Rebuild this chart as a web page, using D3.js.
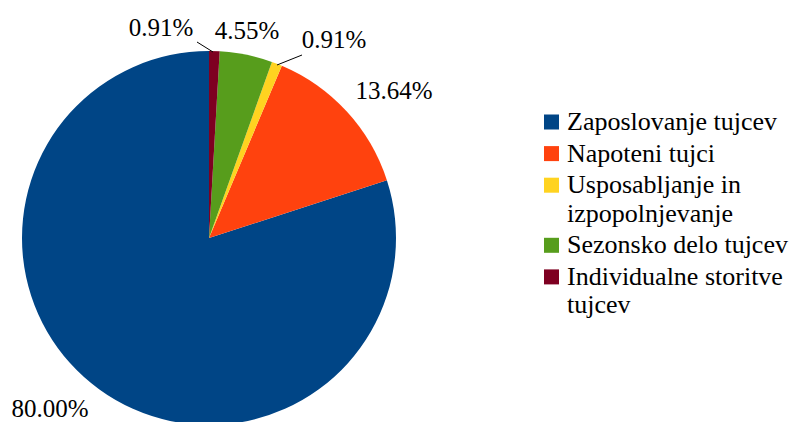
<!DOCTYPE html>
<html><head><meta charset="utf-8">
<script src="https://cdn.jsdelivr.net/npm/d3@7"></script>
<style>body{margin:0;background:#fff}</style>
</head><body>
<svg id="c" width="792" height="422"></svg>
<script>
const categories = ["Zaposlovanje tujcev","Napoteni tujci","Usposabljanje in izpopolnjevanje","Sezonsko delo tujcev","Individualne storitve tujcev"];
const legendLines = [["Zaposlovanje tujcev"],["Napoteni tujci"],["Usposabljanje in","izpopolnjevanje"],["Sezonsko delo tujcev"],["Individualne storitve","tujcev"]];
const values = [80.00, 13.64, 0.91, 4.55, 0.91];
const labels = ["80.00%","13.64%","0.91%","4.55%","0.91%"];
const colors = ["#004586","#ff420e","#ffd320","#579d1c","#7e0021"];

const svg = d3.select("#c");
const cx = 209, cy = 238, r = 187;
const FONT = '"Liberation Serif"';

const pie = d3.pie().sort(null).value(d => d.v)
  .startAngle(2*Math.PI).endAngle(0);
const data = values.map((v,i)=>({v, i}));
const arcs = pie(data);
const arc = d3.arc().innerRadius(0).outerRadius(r);
const g = svg.append("g").attr("transform",`translate(${cx},${cy})`);
g.selectAll("path").data(arcs).enter().append("path")
  .attr("d", arc).attr("fill", d=>colors[d.data.i]);

// label anchor points (text baseline centre)
const labelPos = [
  {x:50, y:417},
  {x:394, y:99},
  {x:334, y:48},
  {x:247, y:39},
  {x:161, y:36}
];
const leaders = {2:[[302,55],[277,65]], 4:[[197,42],[213,52]]};
labelPos.forEach((p,i)=>{
  svg.append("text").attr("x",p.x).attr("y",p.y)
    .attr("text-anchor","middle").style("font-family",FONT).style("font-size","25px")
    .attr("fill","#000").text(labels[i]);
  if (leaders[i]) {
    svg.append("path").attr("d", d3.line()(leaders[i]))
      .attr("stroke","#000").attr("stroke-width",1).attr("fill","none");
  }
});

const lg = svg.append("g");
const lineH = 28.5, gap = 3.1;
let y = 130;
legendLines.forEach((lines,i)=>{
  lg.append("rect").attr("x",544).attr("y",y-15.5).attr("width",15).attr("height",15)
    .attr("fill",colors[i]);
  lines.forEach((t,j)=>{
    lg.append("text").attr("x",567).attr("y",y + j*lineH)
      .style("font-family",FONT).style("font-size","26px").attr("fill","#000").text(t);
  });
  y += lines.length*lineH + gap;
});
</script>
</body></html>
